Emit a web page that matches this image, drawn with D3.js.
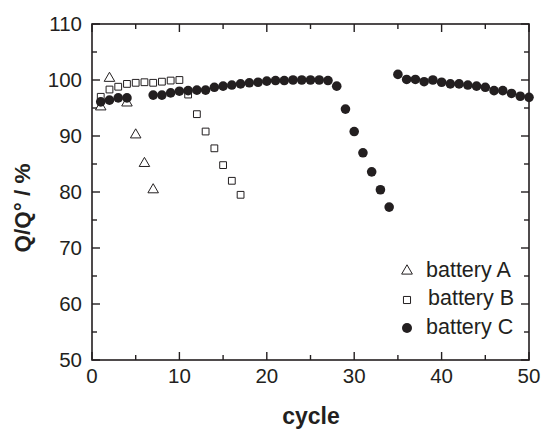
<!DOCTYPE html>
<html>
<head>
<meta charset="utf-8">
<script src="https://cdn.jsdelivr.net/npm/d3@7"></script>
<style>
  body { margin: 0; background: #fff; }
  svg { display: block; font-family: Arial, "Liberation Sans", sans-serif; }
</style>
</head>
<body>
<svg id="chart" width="541" height="429"></svg>
<script>
// capacity retention per cycle
const cyclesA = [1, 2, 4, 5, 6, 7];
const valuesA = [95.2, 100.3, 95.9, 90.2, 85.1, 80.4];

const cyclesB = [1, 2, 3, 4, 5, 6, 7, 8, 9, 10, 11, 12, 13, 14, 15, 16, 17];
const valuesB = [97.0, 98.3, 98.8, 99.3, 99.5, 99.6, 99.5, 99.7, 99.9, 100.0,
                 97.4, 93.9, 90.8, 87.8, 84.8, 82.0, 79.5];

const cyclesC = [1, 2, 3, 4, 7, 8, 9, 10, 11, 12, 13, 14, 15, 16, 17, 18, 19, 20,
                 21, 22, 23, 24, 25, 26, 27, 28, 29, 30, 31, 32, 33, 34,
                 35, 36, 37, 38, 39, 40, 41, 42, 43, 44, 45, 46, 47, 48, 49, 50];
const valuesC = [96.1, 96.4, 96.8, 96.8, 97.3, 97.3, 97.7, 98.0, 98.1, 98.2, 98.2, 98.7,
                 98.9, 99.1, 99.3, 99.5, 99.6, 99.8, 99.9, 99.9, 100.0, 100.0, 100.0, 100.0,
                 99.9, 98.9, 94.8, 90.8, 87.0, 83.6, 80.4, 77.3,
                 101.0, 100.1, 100.1, 99.7, 100.0, 99.6, 99.3, 99.3, 99.1, 98.9, 98.7,
                 98.1, 98.1, 97.6, 97.1, 96.9];

const xTicks = [0, 10, 20, 30, 40, 50];
const yTicks = [50, 60, 70, 80, 90, 100, 110];
const legendLabels = ["battery A", "battery B", "battery C"];

const ink = "#231f20";
const svg = d3.select("#chart");

const x = d3.scaleLinear().domain([0, 50]).range([92, 529]);
const y = d3.scaleLinear().domain([50, 110]).range([360, 24]);

// frame
svg.append("rect")
  .attr("x", x(0)).attr("y", y(110))
  .attr("width", x(50) - x(0)).attr("height", y(50) - y(110))
  .attr("fill", "none").attr("stroke", ink).attr("stroke-width", 1.6);

const xMinor = d3.range(5, 50, 10);
const yMinor = d3.range(55, 110, 10);

// inward ticks on all four sides
function ticks(vals, len) {
  vals.forEach(v => {
    svg.append("line").attr("x1", x(v)).attr("x2", x(v))
      .attr("y1", y(50)).attr("y2", y(50) - len)
      .attr("stroke", ink).attr("stroke-width", 1.4);
    svg.append("line").attr("x1", x(v)).attr("x2", x(v))
      .attr("y1", y(110)).attr("y2", y(110) + len)
      .attr("stroke", ink).attr("stroke-width", 1.4);
  });
}
function yticks(vals, len) {
  vals.forEach(v => {
    svg.append("line").attr("x1", x(0)).attr("x2", x(0) + len)
      .attr("y1", y(v)).attr("y2", y(v))
      .attr("stroke", ink).attr("stroke-width", 1.4);
    svg.append("line").attr("x1", x(50)).attr("x2", x(50) - len)
      .attr("y1", y(v)).attr("y2", y(v))
      .attr("stroke", ink).attr("stroke-width", 1.4);
  });
}
ticks(xTicks, 8); ticks(xMinor, 5);
yticks(yTicks, 8); yticks(yMinor, 5);

svg.selectAll(".xl").data(xTicks).join("text")
  .attr("x", d => x(d)).attr("y", 383)
  .attr("text-anchor", "middle").attr("font-size", 20.5).attr("fill", ink)
  .text(d => d);

svg.selectAll(".yl").data(yTicks).join("text")
  .attr("x", 82).attr("y", d => y(d)).attr("dy", "0.35em")
  .attr("text-anchor", "end").attr("font-size", 20.5).attr("fill", ink)
  .text(d => d);

svg.append("text")
  .attr("x", 311).attr("y", 424)
  .attr("text-anchor", "middle").attr("font-size", 23).attr("font-weight", "bold").attr("fill", ink)
  .text("cycle");

svg.append("text")
  .attr("transform", "translate(30,208) rotate(-90)")
  .attr("text-anchor", "middle").attr("font-size", 22.5).attr("font-weight", "bold").attr("fill", ink)
  .text("Q/Q° / %");

const tri = d3.symbol().type(d3.symbolTriangle).size(48);
const sq = d3.symbol().type(d3.symbolSquare).size(46);

svg.append("g").selectAll("path").data(cyclesA).join("path")
  .attr("transform", (d, i) => `translate(${x(d)},${y(valuesA[i])})`)
  .attr("d", tri).attr("fill", "none").attr("stroke", ink).attr("stroke-width", 1);

svg.append("g").selectAll("path").data(cyclesB).join("path")
  .attr("transform", (d, i) => `translate(${x(d)},${y(valuesB[i])})`)
  .attr("d", sq).attr("fill", "none").attr("stroke", ink).attr("stroke-width", 1);

svg.append("g").selectAll("circle").data(cyclesC).join("circle")
  .attr("cx", d => x(d)).attr("cy", (d, i) => y(valuesC[i]))
  .attr("r", 4.8).attr("fill", ink);

// legend
const lg = svg.append("g");
lg.append("path").attr("transform", "translate(407,271)")
  .attr("d", d3.symbol().type(d3.symbolTriangle).size(50))
  .attr("fill", "none").attr("stroke", ink).attr("stroke-width", 1);
lg.append("path").attr("transform", "translate(407,300)")
  .attr("d", d3.symbol().type(d3.symbolSquare).size(50))
  .attr("fill", "none").attr("stroke", ink).attr("stroke-width", 1);
lg.append("circle").attr("cx", 407).attr("cy", 328).attr("r", 5).attr("fill", ink);
lg.selectAll("text").data(legendLabels).join("text")
  .attr("x", (d, i) => i === 1 ? 428 : 426)
  .attr("y", (d, i) => [277, 305, 334][i])
  .attr("font-size", 21.5).attr("fill", ink)
  .text(d => d);
</script>
</body>
</html>
